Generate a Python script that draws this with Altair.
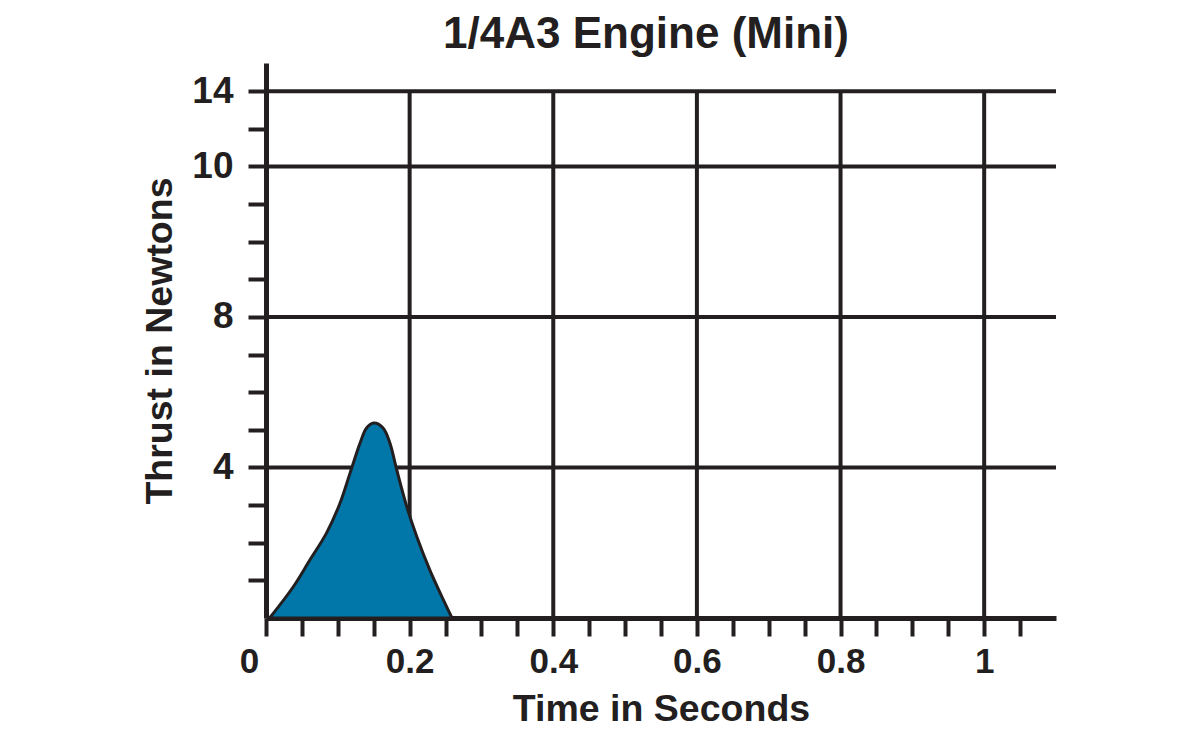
import altair as alt
import pandas as pd

# thrust curve
time_s = [0.005, 0.038, 0.061, 0.084, 0.103, 0.117, 0.131, 0.140, 0.150, 0.163, 0.1725, 0.182, 0.196, 0.210, 0.228, 0.247, 0.259]
thrust_n = [0.0, 0.83, 1.54, 2.25, 3.05, 3.85, 4.65, 5.05, 5.18, 5.05, 4.65, 3.94, 2.96, 2.16, 1.28, 0.48, 0.0]

# axis ticks / labels
x_tick_values = [round(i * 0.05, 2) for i in range(0, 22)]
x_label_values = [0, 0.2, 0.4, 0.6, 0.8, 1]
x_label_texts = ["0", "0.2", "0.4", "0.6", "0.8", "1"]
y_tick_values = list(range(1, 15))
y_label_values = [4, 8, 12, 14]
y_label_texts = ["4", "8", "10", "14"]
x_grid = [0.2, 0.4, 0.6, 0.8, 1.0]
y_grid = [4, 8, 12, 14]

INK = "#231f20"
FONT = "Liberation Sans"

curve = pd.DataFrame({"t": time_s, "f": thrust_n})

def label_expr(values, texts):
    parts = [f"abs(datum.value - {v}) < 0.001 ? '{t}'" for v, t in zip(values, texts)]
    return " : ".join(parts) + " : ''"

xscale = alt.Scale(domain=[0, 1.1], nice=False, zero=False)
yscale = alt.Scale(domain=[0, 14.75], nice=False, zero=False)

x_axis = alt.Axis(
    values=x_tick_values, labelExpr=label_expr(x_label_values, x_label_texts),
    title="Time in Seconds", grid=False, tickSize=18, tickWidth=4, tickColor=INK,
    domainColor=INK, domainWidth=5, labelFont=FONT, labelFontSize=35, labelFontWeight="bold",
    labelColor=INK, labelPadding=8, titleFont=FONT, titleFontSize=37.5, titleFontWeight="bold",
    titleColor=INK, titlePadding=11, labelOverlap=False, labelFlush=False,
    labelOffset={"condition": {"test": "datum.value === 0", "value": -17}, "value": 0},
)
y_axis = alt.Axis(
    values=y_tick_values, labelExpr=label_expr(y_label_values, y_label_texts),
    title="Thrust in Newtons", grid=False, tickSize=18, tickWidth=4, tickColor=INK,
    domainColor=INK, domainWidth=5, labelFont=FONT, labelFontSize=37, labelFontWeight="bold",
    labelColor=INK, labelPadding=15, titleFont=FONT, titleFontSize=37.5, titleFontWeight="bold",
    titleColor=INK, titlePadding=12, labelOverlap=False, labelBaseline="middle",
)

vgrid = alt.Chart(pd.DataFrame({"x": x_grid, "y0": [0] * len(x_grid), "y1": [14] * len(x_grid)})).mark_rule(
    color=INK, strokeWidth=4
).encode(
    x=alt.X("x:Q", scale=xscale, axis=x_axis),
    y=alt.Y("y0:Q", scale=yscale, axis=y_axis),
    y2="y1:Q",
)
hgrid = alt.Chart(pd.DataFrame({"y": y_grid, "x0": [0] * len(y_grid), "x1": [1.1] * len(y_grid)})).mark_rule(
    color=INK, strokeWidth=4
).encode(
    y=alt.Y("y:Q", scale=yscale, axis=y_axis),
    x=alt.X("x0:Q", scale=xscale, axis=x_axis),
    x2="x1:Q",
)
area = alt.Chart(curve).mark_area(
    color="#0077a8", stroke=INK, strokeWidth=3, interpolate="catmull-rom", opacity=1
).encode(
    x=alt.X("t:Q", scale=xscale, axis=x_axis),
    y=alt.Y("f:Q", scale=yscale, axis=y_axis),
)

chart = alt.layer(vgrid, hgrid, area).properties(
    width=790, height=555,
    title=alt.TitleParams("1/4A3 Engine (Mini)", font=FONT, fontSize=44, fontWeight="bold",
                          color=INK, anchor="middle", dx=-15, offset=6),
    autosize=alt.AutoSizeParams(type="none"),
    padding={"left": 258, "top": 55, "right": 120, "bottom": 110},
).configure_view(stroke=None)

chart.save("out.html", embed_options={"renderer": "svg", "actions": False})
